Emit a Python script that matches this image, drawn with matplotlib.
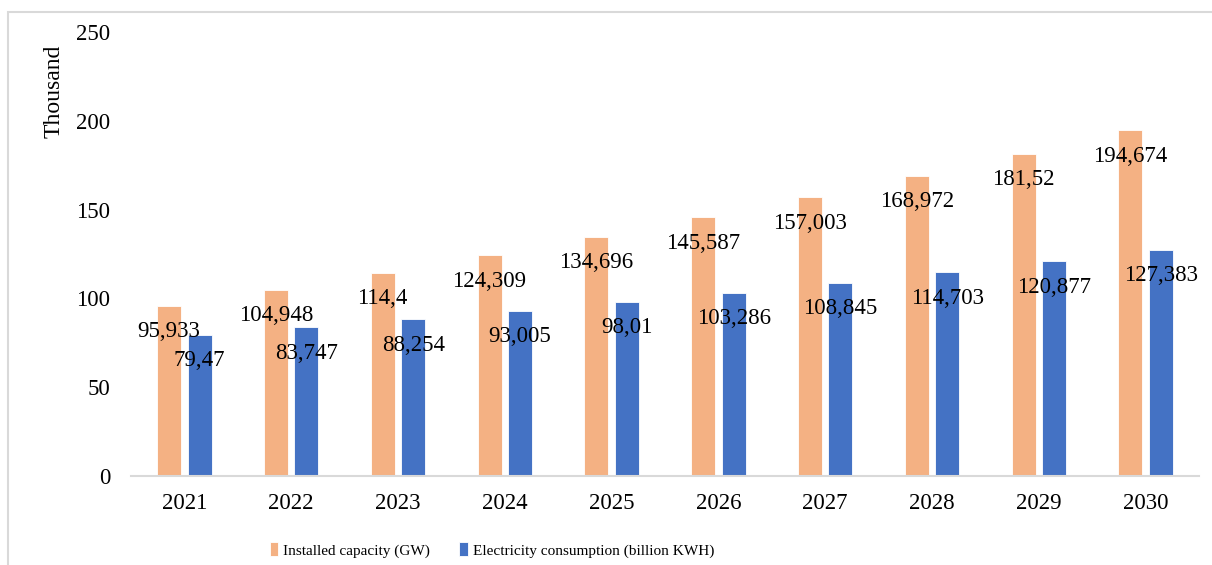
import numpy as np
import matplotlib
matplotlib.use("Agg")
from matplotlib import pyplot as plt
from matplotlib.patches import Rectangle

# Chart data (values in thousands, labels use comma decimals)
years = ["2021", "2022", "2023", "2024", "2025", "2026", "2027", "2028", "2029", "2030"]
installed = [95.933, 104.948, 114.4, 124.309, 134.696, 145.587, 157.003, 168.972, 181.52, 194.674]
consumption = [79.47, 83.747, 88.254, 93.005, 98.01, 103.286, 108.845, 114.703, 120.877, 127.383]
series_names = ["Installed capacity (GW)", "Electricity consumption (billion KWH)"]
yticks = [0, 50, 100, 150, 200, 250]

plt.rcParams['font.family'] = ['Liberation Serif', 'DejaVu Serif']

W, H = 1212, 565
fig = plt.figure(figsize=(W / 100, H / 100), dpi=100)
ax = fig.add_axes([131 / W, 1 - 476 / H, (1199 - 131) / W, (476 - 32) / H])

x = np.arange(len(years))
width = 0.225
off = 0.143

b1 = ax.bar(x - off, installed, width, color='#F4B183', edgecolor='white', linewidth=0.6,
            label=series_names[0])
b2 = ax.bar(x + off, consumption, width, color='#4472C4', edgecolor='white', linewidth=0.6,
            label=series_names[1])

def fmt(v):
    return f"{v:g}".replace('.', ',')

for bars, vals in ((b1, installed), (b2, consumption)):
    for rect, v in zip(bars, vals):
        ax.annotate(fmt(v), (rect.get_x() + rect.get_width() / 2, v),
                    xytext=(0, -18.7), textcoords='offset points',
                    ha='center', va='center', fontsize=16.5, color='black')

ax.set_xlim(-0.5, len(years) - 0.5)
ax.set_ylim(0, 250)
ax.set_xticks(x)
ax.set_xticklabels(years)
ax.set_yticks(yticks)
ax.tick_params(axis='both', length=0, labelsize=16.5)
ax.tick_params(axis='y', pad=15)
ax.tick_params(axis='x', pad=12)

for s in ['top', 'right', 'left']:
    ax.spines[s].set_visible(False)
ax.spines['bottom'].set_color('#D9D9D9')
ax.spines['bottom'].set_linewidth(1.5)

fig.text(54 / W, 1 - 91 / H, "Thousand", rotation=90, ha='center', va='center', fontsize=17)

fig.legend(handles=[b1, b2], loc='center', bbox_to_anchor=(492 / W, 1 - 550 / H),
           ncol=2, frameon=False, fontsize=11, handlelength=0.55, handleheight=0.95,
           handletextpad=0.35, columnspacing=1.9)

# light frame around the chart area
fig.add_artist(Rectangle((8 / W, -0.5), 2, (1 - 12 / H) + 0.5, transform=fig.transFigure,
                         fill=False, edgecolor='#D9D9D9', linewidth=1.5))

fig.savefig("out.png", dpi=100)
